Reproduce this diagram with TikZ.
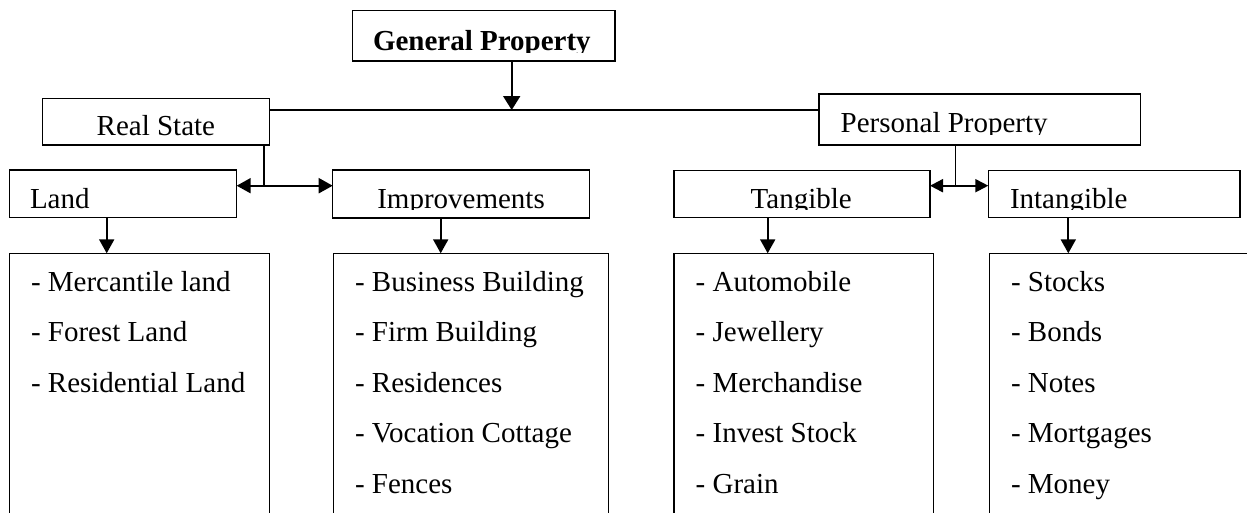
\documentclass[tikz,border=0pt]{standalone}
\usepackage{fontspec}
\setmainfont{Liberation Serif}
\usetikzlibrary{arrows.meta}
\begin{document}
\begin{tikzpicture}[x=1pt,y=-1pt,
  box/.style={draw, line width=1.3pt, inner sep=0pt, outer sep=0pt, anchor=north west},
  txt/.style={anchor=base west, inner sep=0pt, outer sep=0pt, font=\fontsize{29}{34}\selectfont},
  conn/.style={line width=1.3pt},
  arr/.style={line width=2pt, -{Triangle[width=15pt,length=14pt]}},
  bigarr/.style={line width=2pt, -{Triangle[width=17pt,length=14pt]}},
  dbl/.style={line width=2pt, {Triangle[width=15pt,length=14pt]}-{Triangle[width=15pt,length=14pt]}},
  dbls/.style={line width=2pt, {Triangle[width=13pt,length=13pt]}-{Triangle[width=13pt,length=13pt]}}]
\useasboundingbox (0,0) rectangle (1247,512);
\clip (0,0) rectangle (1247,512);

% boxes
\node[box, minimum width=262.3pt, minimum height=50.3pt] (gp) at (352.7,10.7) {};
\node[box, minimum width=226.6pt, minimum height=46.7pt] (rs) at (42.7,98.3) {};
\node[box, minimum width=321.7pt, minimum height=51pt] (pp) at (819,94) {};
\node[box, minimum width=227.4pt, minimum height=47.7pt] (land) at (9.3,170) {};
\node[box, minimum width=256.6pt, minimum height=48pt] (imp) at (332.7,170) {};
\node[box, minimum width=256pt, minimum height=47pt] (tan) at (674,170.7) {};
\node[box, minimum width=251.7pt, minimum height=47pt] (intg) at (988.3,170.7) {};
\node[box, minimum width=260pt, minimum height=280pt] (landl) at (9.3,253.3) {};
\node[box, minimum width=275pt, minimum height=280pt] (impl) at (333.3,253.3) {};
\node[box, minimum width=259.3pt, minimum height=280pt] (tanl) at (674,253.3) {};
\node[box, minimum width=300pt, minimum height=280pt] (intl) at (989.3,253.3) {};

% titles (some clipped at the baseline as in the reference)
\begin{scope}
  \clip (353,11) rectangle (614,52);
  \node[txt, font=\fontsize{29}{34}\selectfont\bfseries] (tgp) at (373,50) {General Property};
\end{scope}
\node[txt] (trs) at (96.7,135.7) {Real State};
\begin{scope}
  \clip (820,95) rectangle (1140,134);
  \node[txt] (tpp) at (840.7,132.7) {Personal Property};
\end{scope}
\node[txt] (tland) at (30,208.3) {Land};
\begin{scope}
  \clip (333,171) rectangle (589,209.5);
  \node[txt] (timp) at (377.3,208.3) {Improvements};
\end{scope}
\begin{scope}
  \clip (675,171) rectangle (930,209.5);
  \node[txt] (ttan) at (750.7,208.3) {Tangible};
\end{scope}
\begin{scope}
  \clip (989,171) rectangle (1240,209.5);
  \node[txt] (tint) at (1010,208.3) {Intangible};
\end{scope}

% lists
\node[txt] (l1) at (31,291) {- Mercantile land};
\node[txt] (l2) at (31,341.6) {- Forest Land};
\node[txt] (l3) at (31,392.2) {- Residential Land};

\node[txt] (i1) at (355,291) {- Business Building};
\node[txt] (i2) at (355,341.6) {- Firm Building};
\node[txt] (i3) at (355,392.2) {- Residences};
\node[txt] (i4) at (355,442.8) {- Vocation Cottage};
\node[txt] (i5) at (355,493.4) {- Fences};

\node[txt] (t1) at (695.7,291) {- Automobile};
\node[txt] (t2) at (695.7,341.6) {- Jewellery};
\node[txt] (t3) at (695.7,392.2) {- Merchandise};
\node[txt] (t4) at (695.7,442.8) {- Invest Stock};
\node[txt] (t5) at (695.7,493.4) {- Grain};

\node[txt] (n1) at (1011,291) {- Stocks};
\node[txt] (n2) at (1011,341.6) {- Bonds};
\node[txt] (n3) at (1011,392.2) {- Notes};
\node[txt] (n4) at (1011,442.8) {- Mortgages};
\node[txt] (n5) at (1011,493.4) {- Money};

% connectors
\coordinate (j1) at (511.7,110);
\draw[bigarr] (gp.south -| j1) -- (j1);
\draw[conn] (j1 -| rs.east) -- (j1 -| pp.west);

\coordinate (j2) at (264,185.7);
\draw[conn] (j2 |- rs.south) -- (j2);
\draw[dbl] (j2 -| land.east) -- (j2 -| imp.west);

\coordinate (j3) at (955.5,185.7);
\draw[conn] (j3 |- pp.south) -- (j3);
\draw[dbls] (j3 -| tan.east) -- (j3 -| intg.west);

\coordinate (a1) at (106.7,0);
\coordinate (a2) at (440.7,0);
\coordinate (a3) at (767.7,0);
\coordinate (a4) at (1068.3,0);
\draw[arr] (land.south -| a1) -- (landl.north -| a1);
\draw[arr] (imp.south -| a2) -- (impl.north -| a2);
\draw[arr] (tan.south -| a3) -- (tanl.north -| a3);
\draw[arr] (intg.south -| a4) -- (intl.north -| a4);
\end{tikzpicture}
\end{document}
